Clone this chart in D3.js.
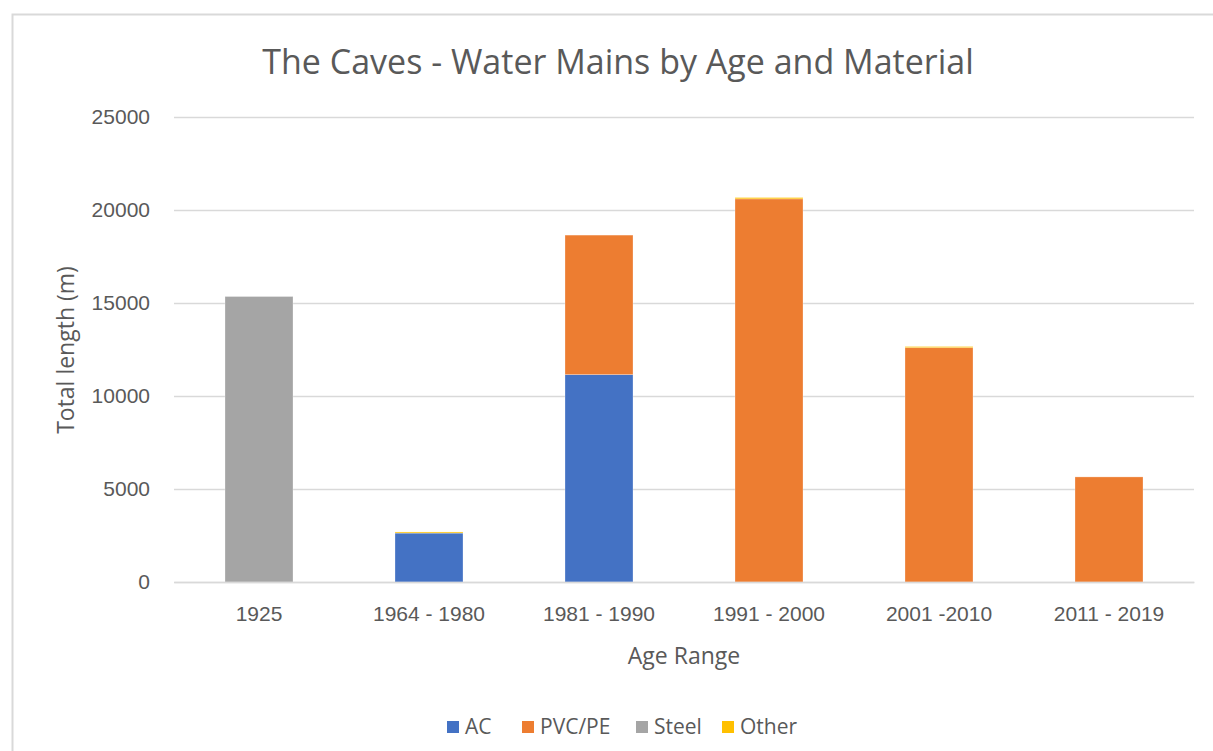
<!DOCTYPE html>
<html>
<head>
<meta charset="utf-8">
<script src="https://cdn.jsdelivr.net/npm/d3@7"></script>
<style>
  body { margin: 0; background: #fff; }
  svg { font-family: "Open Sans", "Liberation Sans", sans-serif; }
</style>
</head>
<body>
<svg id="chart"></svg>
<script>
// data (metres)
const ageRanges = ["1925", "1964 - 1980", "1981 - 1990", "1991 - 2000", "2001 -2010", "2011 - 2019"];
const acLength    = [0, 2630, 11150, 0, 0, 0];
const pvcLength   = [0, 0, 7500, 20600, 12600, 5650];
const steelLength = [15350, 0, 0, 0, 0, 0];
const otherLength = [0, 60, 0, 70, 60, 0];
const materials = ["AC", "PVC/PE", "Steel", "Other"];
const yTicks = [0, 5000, 10000, 15000, 20000, 25000];

const colors = {
  "AC": "#4472C4",
  "PVC/PE": "#ED7D31",
  "Steel": "#A5A5A5",
  "Other": "#FFC000"
};

// build rows for the stack
const rows = ageRanges.map((r, i) => ({
  range: r,
  "AC": acLength[i],
  "PVC/PE": pvcLength[i],
  "Steel": steelLength[i],
  "Other": otherLength[i]
}));

const W = 1213, H = 751;
const margin = { top: 117, right: 19, bottom: 169, left: 174 };
const width = W - margin.left - margin.right;
const height = H - margin.top - margin.bottom;

const svgRoot = d3.select("#chart")
  .attr("width", W)
  .attr("height", H);

// outer chart border
svgRoot.append("rect")
  .attr("x", 12.5)
  .attr("y", 14.5)
  .attr("width", W + 20)
  .attr("height", H + 20)
  .attr("fill", "none")
  .attr("stroke", "#D9D9D9")
  .attr("stroke-width", 2);

const svg = svgRoot.append("g")
  .attr("transform", `translate(${margin.left},${margin.top})`);

const x = d3.scaleBand()
  .domain(ageRanges)
  .range([0, width])
  .paddingInner(0.6)
  .paddingOuter(0.3);

const y = d3.scaleLinear()
  .domain([0, 25000])
  .range([height, 0]);

// gridlines + y labels
const yAxis = svg.append("g")
  .call(d3.axisLeft(y).tickValues(yTicks).tickSize(-width).tickPadding(24).tickFormat(d3.format("d")));
yAxis.select(".domain").remove();
yAxis.selectAll(".tick line")
  .attr("stroke", "#D9D9D9")
  .attr("stroke-width", 1.3);
yAxis.selectAll(".tick text")
  .attr("fill", "#595959")
  .style("font-size", "21px");

// stacked bars
const stack = d3.stack().keys(materials);
const series = stack(rows);

svg.selectAll(".series")
  .data(series)
  .enter().append("g")
  .attr("class", "series")
  .attr("fill", d => colors[d.key])
  .selectAll("rect")
  .data(d => d)
  .enter().append("rect")
  .attr("x", d => x(d.data.range))
  .attr("y", d => y(d[1]))
  .attr("width", x.bandwidth())
  .attr("height", d => y(d[0]) - y(d[1]))
  .attr("stroke", "rgba(255,255,255,0.35)")
  .attr("stroke-width", 0.8);

// x axis
const xAxis = svg.append("g")
  .attr("transform", `translate(0,${height})`)
  .call(d3.axisBottom(x).tickSize(0).tickPadding(24));
xAxis.select(".domain")
  .attr("stroke", "#D9D9D9")
  .attr("stroke-width", 1.3);
xAxis.selectAll(".tick text")
  .attr("fill", "#595959")
  .style("font-size", "21px");

// title
svgRoot.append("text")
  .attr("x", 618)
  .attr("y", 74)
  .attr("text-anchor", "middle")
  .attr("fill", "#595959")
  .style("font-size", "34px")
  .text("The Caves - Water Mains by Age and Material");

// axis titles
svgRoot.append("text")
  .attr("transform", "translate(74,350) rotate(-90)")
  .attr("text-anchor", "middle")
  .attr("fill", "#595959")
  .style("font-size", "23px")
  .text("Total length (m)");

svgRoot.append("text")
  .attr("x", margin.left + width / 2)
  .attr("y", 664)
  .attr("text-anchor", "middle")
  .attr("fill", "#595959")
  .style("font-size", "23px")
  .text("Age Range");

// legend
const legendX = [447, 522, 636, 722];
const legend = svgRoot.selectAll(".legend")
  .data(materials)
  .enter().append("g")
  .attr("class", "legend")
  .attr("transform", (d, i) => `translate(${legendX[i]},727)`);

legend.append("rect")
  .attr("x", 0)
  .attr("y", -6)
  .attr("width", 12)
  .attr("height", 12)
  .attr("fill", d => colors[d]);

legend.append("text")
  .attr("x", 18)
  .attr("dy", "0.35em")
  .attr("fill", "#595959")
  .style("font-size", "21px")
  .text(d => d);
</script>
</body>
</html>
